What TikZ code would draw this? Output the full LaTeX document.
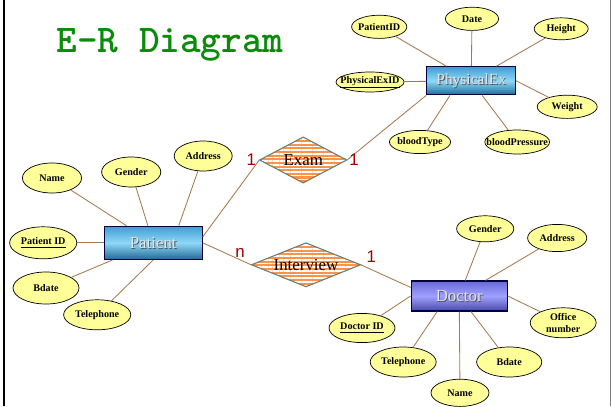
\documentclass[tikz,border=0pt]{standalone}
\usepackage{fontspec}
\setmainfont{Liberation Serif}
\newfontfamily\titlefont{lmmonolt10-bold.otf}
\newfontfamily\cardfont{Liberation Sans}
\usetikzlibrary{shapes.geometric,patterns.meta}

\definecolor{attrfill}{HTML}{FFFF99}
\definecolor{linkbrown}{HTML}{A8784C}
\definecolor{relfill}{HTML}{FF9448}
\definecolor{relborder}{HTML}{6E8070}
\definecolor{cardred}{HTML}{A00000}
\definecolor{titlegreen}{HTML}{0A8C0A}
\definecolor{patienttop}{HTML}{3E9ED0}
\definecolor{patientmid}{HTML}{8FD8F8}
\definecolor{patientbot}{HTML}{1F6A98}
\definecolor{doctortop}{HTML}{6868D8}
\definecolor{doctormid}{HTML}{A0A0FF}
\definecolor{doctorbot}{HTML}{4848A8}

\tikzset{
  attr/.style={ellipse, draw=black, line width=0.5pt, fill=attrfill,
    inner xsep=-30pt, inner ysep=0pt, align=center,
    font=\fontsize{7.2}{8.5}\selectfont\bfseries},
  % #1 = entity name, repeated as a dark drop shadow
  entity/.style={rectangle, draw=black!75!blue, line width=0.8pt, inner sep=0pt,
    text=white!90!black, font=\fontsize{12}{14}\selectfont,
    path picture={\node[inner sep=0pt, text=black!70, font=\fontsize{12}{14}\selectfont]
      at ([shift={(0.6pt,-0.6pt)}]path picture bounding box.center) {#1};}},
  blueentity/.style={entity=#1, top color=patienttop, bottom color=patientbot, middle color=patientmid},
  purpleentity/.style={entity=#1, top color=doctortop, bottom color=doctorbot, middle color=doctormid},
  relation/.style={diamond, aspect=2.5, fill=relfill, inner sep=0pt,
    font=\fontsize{12}{14}\selectfont,
    postaction={pattern color=white, pattern={Lines[angle=0,distance=2.6pt,line width=1.1pt]}},
    postaction={draw=relborder, line width=0.8pt}},
  link/.style={draw=linkbrown, line width=0.6pt},
  card/.style={text=cardred, inner sep=0pt, font=\cardfont\fontsize{12}{14}\selectfont},
}

\begin{document}
\begin{tikzpicture}
\useasboundingbox (0,0) rectangle (15.3,10.15);

% Frame
\draw[line width=1.4pt] (0.1,0) -- (0.1,10.15);
\draw[gray, line width=0.6pt] (15.25,0) -- (15.25,10.15);

% Title
\node[anchor=base, text=titlegreen, font=\titlefont\fontsize{28}{32}\selectfont] (title) at (4.25,8.85) {E-R Diagram};

% Entities
\node[blueentity=Patient, minimum width=2.45cm, minimum height=0.83cm] (patient) at (3.83,4.08) {Patient};
\node[blueentity={\fontsize{11}{13}\selectfont PhysicalEx}, minimum width=2.22cm, minimum height=0.7cm, font=\fontsize{11}{13}\selectfont] (phys) at (11.78,8.13) {PhysicalEx};
\node[purpleentity=Doctor, minimum width=2.4cm, minimum height=0.75cm] (doctor) at (11.48,2.75) {Doctor};

% Relationships
\node[relation, minimum width=2.18cm, minimum height=1.15cm] (exam) at (7.58,6.15) {Exam};
\node[relation, minimum width=2.73cm, minimum height=1.1cm] (interview) at (7.65,3.53) {Interview};

% Patient attributes
\node[attr, minimum width=1.48cm, minimum height=0.75cm] (pname) at (1.3,5.7) {Name};
\node[attr, minimum width=1.48cm, minimum height=0.75cm] (pgender) at (3.28,5.85) {Gender};
\node[attr, minimum width=1.45cm, minimum height=0.75cm] (paddress) at (5.08,6.25) {Address};
\node[attr, minimum width=1.68cm, minimum height=0.8cm] (pid) at (1.08,4.08) {\underline{Patient ID}};
\node[attr, minimum width=1.65cm, minimum height=0.8cm] (pbdate) at (1.15,2.95) {Bdate};
\node[attr, minimum width=1.68cm, minimum height=0.75cm] (ptel) at (2.43,2.28) {Telephone};

% PhysicalEx attributes
\node[attr, minimum width=1.38cm, minimum height=0.58cm] (xpid) at (9.48,9.48) {PatientID};
\node[attr, minimum width=1.33cm, minimum height=0.58cm] (xdate) at (11.8,9.68) {Date};
\node[attr, minimum width=1.35cm, minimum height=0.55cm] (xheight) at (14.03,9.43) {Height};
\node[attr, minimum width=1.7cm, minimum height=0.5cm] (xexid) at (9.25,8.1) {\underline{PhysicalExID}};
\node[attr, minimum width=1.5cm, minimum height=0.58cm] (xweight) at (14.18,7.48) {Weight};
\node[attr, minimum width=1.53cm, minimum height=0.58cm] (xtype) at (10.5,6.6) {bloodType};
\node[attr, minimum width=1.62cm, minimum height=0.6cm] (xpressure) at (12.93,6.6) {bloodPressure};

% Doctor attributes
\node[attr, minimum width=1.43cm, minimum height=0.65cm] (dgender) at (12.13,4.43) {Gender};
\node[attr, minimum width=1.48cm, minimum height=0.68cm] (daddress) at (13.93,4.2) {Address};
\node[attr, minimum width=1.65cm, minimum height=0.75cm] (doffice) at (14.08,2.08) {Office\\number};
\node[attr, minimum width=1.65cm, minimum height=0.73cm] (did) at (9.05,1.95) {\underline{Doctor ID}};
\node[attr, minimum width=1.65cm, minimum height=0.75cm] (dtel) at (10.08,1.1) {Telephone};
\node[attr, minimum width=1.63cm, minimum height=0.75cm] (dbdate) at (12.73,1.1) {Bdate};
\node[attr, minimum width=1.45cm, minimum height=0.68cm] (dname) at (11.5,0.33) {Name};

% Attribute links
\draw[link] (pname) -- (patient);
\draw[link] (pgender) -- (patient);
\draw[link] (paddress) -- ([xshift=-0.6cm]patient.north east);
\draw[link] (pid) -- (patient);
\draw[link] (pbdate) -- (patient);
\draw[link] (ptel) -- (patient.south);

\draw[link] (xpid) -- (phys);
\draw[link] (xdate) -- (phys);
\draw[link] (xheight) -- (phys);
\draw[link] (xexid) -- (phys);
\draw[link] (xweight) -- (phys.east);
\draw[link] (xtype) -- ([xshift=-0.53cm]phys.south);
\draw[link] (xpressure) -- (phys);

\draw[link] (dgender) -- (doctor);
\draw[link] (daddress) -- (doctor);
\draw[link] (doffice) -- (doctor.east);
\draw[link] (did) -- (doctor.west);
\draw[link] (dtel) -- ([xshift=-0.55cm]doctor.south);
\draw[link] (dname) -- (doctor);
\draw[link] (dbdate) -- (doctor);

% Relationship links
\draw[link] ([yshift=0.15cm]patient.east) -- (exam.west);
\draw[link] (exam.east) -- (phys.south west);
\draw[link] (patient.east) -- (interview.west);
\draw[link] (interview.east) -- (doctor.170);

% Cardinalities
\node[card] (c1) at (6.28,6.15) {1};
\node[card] (c2) at (8.85,6.15) {1};
\node[card] (c3) at (6.0,3.83) {n};
\node[card] (c4) at (9.28,3.73) {1};

\end{tikzpicture}
\end{document}
